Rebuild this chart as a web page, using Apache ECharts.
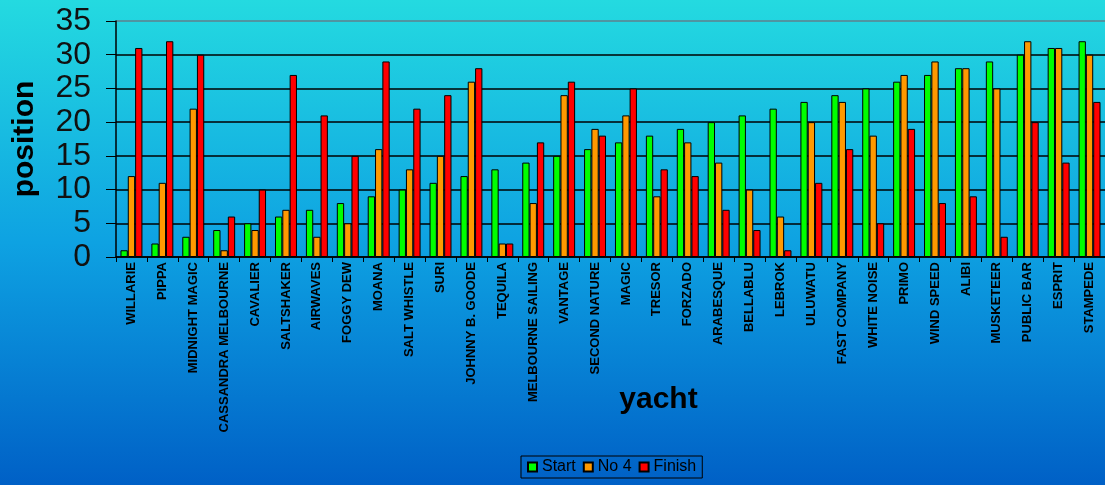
<!DOCTYPE html>
<html>
<head>
<meta charset="utf-8">
<script src="https://cdn.jsdelivr.net/npm/echarts@6/dist/echarts.min.js"></script>
<style>
html,body{margin:0;padding:0;}
#chart{width:1105px;height:485px;}
</style>
</head>
<body>
<div id="chart"></div>
<script>
const categories = ['WILLARIE','PIPPA','MIDNIGHT MAGIC','CASSANDRA MELBOURNE','CAVALIER','SALTSHAKER','AIRWAVES','FOGGY DEW','MOANA','SALT WHISTLE','SURI','JOHNNY B. GOODE','TEQUILA','MELBOURNE SAILING','VANTAGE','SECOND NATURE','MAGIC','TRESOR','FORZADO','ARABESQUE','BELLABLU','LEBROK','ULUWATU','FAST COMPANY','WHITE NOISE','PRIMO','WIND SPEED','ALIBI','MUSKETEER','PUBLIC BAR','ESPRIT','STAMPEDE'];
const startValues  = [1,2,3,4,5,6,7,8,9,10,11,12,13,14,15,16,17,18,19,20,21,22,23,24,25,26,27,28,29,30,31,32];
const no4Values    = [12,11,22,1,4,7,3,5,16,13,15,26,2,8,24,19,21,9,17,14,10,6,20,23,18,27,29,28,25,32,31,30];
const finishValues = [31,32,30,6,10,27,21,15,29,22,24,28,2,17,26,18,25,13,12,7,4,1,11,16,5,19,8,9,3,20,14,23];
const yTicks = [0,5,10,15,20,25,30,35];

const font = 'Liberation Sans, Arial, sans-serif';
const chart = echarts.init(document.getElementById('chart'));
const barStyle = c => ({color: c, borderColor: '#000', borderWidth: 1});
chart.setOption({
  backgroundColor: new echarts.graphic.LinearGradient(0,0,0,1,[
    {offset:0,color:'#24dae0'},{offset:0.5,color:'#0ea2e2'},{offset:1,color:'#0060c6'}
  ]),
  animation: false,
  grid: {left: 116, top: 21, bottom: 228, width: 992, containLabel: false},
  legend: {
    left: 521, top: 456, itemWidth: 9, itemHeight: 9, itemGap: 7,
    padding: [3,6,3,6],
    borderColor: '#000', borderWidth: 1,
    textStyle: {fontFamily: font, fontSize: 16, color: '#000'},
    icon: 'rect',
    data: ['Start','No 4','Finish']
  },
  xAxis: {
    type: 'category', data: categories,
    name: 'yacht', nameLocation: 'middle', nameGap: 128, nameMoveOverlap: false,
    nameTextStyle: {fontFamily: font, fontSize: 30, fontWeight: 'bold', color: '#000', padding: [0,0,0,96]},
    axisLine: {lineStyle: {color: '#000', width: 1.5}},
    axisTick: {show: true, length: 5, lineStyle: {color: '#000'}},
    axisLabel: {interval: 0, rotate: 90, margin: 5, fontFamily: font, fontSize: 13, fontWeight: 'bold', color: '#000'}
  },
  yAxis: {
    type: 'value', min: 0, max: 35, interval: 5,
    name: 'position', nameLocation: 'middle', nameGap: 76, nameMoveOverlap: false,
    nameTextStyle: {fontFamily: font, fontSize: 30, fontWeight: 'bold', color: '#000'},
    axisLine: {show: true, lineStyle: {color: '#000', width: 1.5}},
    axisTick: {show: true, length: 10, lineStyle: {color: '#000'}},
    axisLabel: {margin: 25, fontFamily: font, fontSize: 32, color: '#111',
      formatter: v => yTicks.includes(v) ? String(v) : ''},
    splitLine: {show: true, lineStyle: {color: ['#000','#000','#000','#000','#000','#000','#000','#5f7f8c'], width: 1.5}}
  },
  series: [
    {name: 'Start', type: 'bar', data: startValues, itemStyle: barStyle('#00ff00'), barGap: '0%', barCategoryGap: '29%'},
    {name: 'No 4', type: 'bar', data: no4Values, itemStyle: barStyle('#ff9900'), barGap: '0%', barCategoryGap: '29%'},
    {name: 'Finish', type: 'bar', data: finishValues, itemStyle: barStyle('#ff0000'), barGap: '0%', barCategoryGap: '29%'}
  ]
});
</script>
</body>
</html>
